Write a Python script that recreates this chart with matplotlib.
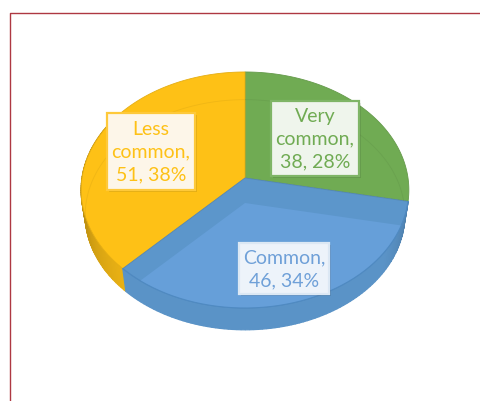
import matplotlib
matplotlib.use("Agg")
import matplotlib.pyplot as plt
import matplotlib.patheffects as pe
from matplotlib.colors import to_rgb
from matplotlib.patches import Polygon, Rectangle
import numpy as np

categories = ["Very\ncommon,", "Common,", "Less\ncommon,"]
values = [38, 46, 51]
percents = [28, 34, 38]
colors = ["#70AB53", "#5C96CB", "#FEC116"]
label_fills = ["#EFF5EC", "#EDF3FA", "#FDF6E9"]
label_edges = ["#7FB566", "#DCE8F4", "#FEC93A"]
# left, top, right, bottom of each label box
label_boxes = [(271, 101, 359, 176), (239, 243, 329, 294), (107, 113, 195, 190)]

CX, CY = 245, 178
RX, RY, PERSP = 163, 116.8, 0.1017
DEPTH, BASE_SCALE = 25, 0.975

plt.rcParams["font.family"] = ["Lato", "DejaVu Sans"]


def project(theta, r=1.0, base=False):
    # theta runs clockwise from twelve o'clock, camera tilted over the pie
    u = r * np.sin(theta)
    v = -r * np.cos(theta)
    d = 1 - PERSP * v
    x = RX * u / d
    y = RY * v / d
    if base:
        return CX + x * BASE_SCALE, CY + DEPTH + y * BASE_SCALE
    return CX + x, CY + y


def wedge(a0, a1, base=False):
    t = np.linspace(a0, a1, 200)
    x, y = project(t, base=base)
    cx, cy = project(0.0, 0.0, base=base)
    return np.column_stack([np.r_[cx, x], np.r_[cy, y]])


def shade(color, k):
    return tuple(c * k for c in to_rgb(color))


fig = plt.figure(figsize=(4.81, 4.01), dpi=100)
ax = fig.add_axes([0, 0, 1, 1])
ax.set_xlim(0, 481)
ax.set_ylim(401, 0)
ax.axis("off")

# chart frame, runs off the right and bottom
ax.plot([10, 10, 481], [401, 12.5, 12.5], color="#AE3842", lw=1.0, zorder=1)

edges = np.r_[0, np.cumsum(values)] / np.sum(values) * 2 * np.pi
starts, ends = edges[:-1], edges[1:]

# side wall, only the part facing the camera shows; strips overlap so no seams appear
for i in [2, 1]:
    t = np.linspace(starts[i], min(ends[i], np.radians(300)), 90)
    for a, b in zip(t[:-1], t[1:]):
        xa, ya = project(a)
        xb, yb = project(b)
        xc, yc = project(b, base=True)
        xd, yd = project(a, base=True)
        m = (a + b) / 2
        if i == 2:
            k = 0.70 + 0.22 * np.clip(-np.cos(m) / 0.72, 0, 1)
        else:
            k = 0.70 + 0.28 * np.clip(-np.cos(m) / 0.6, 0, 1) ** 0.7
        c = shade(colors[i], k)
        ax.add_patch(Polygon([(xa, ya), (xb, yb), (xc, yc), (xd, yd)], closed=True,
                             facecolor=c, edgecolor=c, lw=0.9, zorder=2))

# top faces
for i in [0, 2, 1]:
    ax.add_patch(Polygon(wedge(starts[i], ends[i]), closed=True, facecolor=colors[i],
                         edgecolor=shade(colors[i], 0.9), lw=0.6, zorder=3))

# base of the blue slice seen through the top, lighter where the two overlap
clip = Polygon(wedge(starts[1], ends[1]), closed=True, transform=ax.transData)
overlap = Polygon(wedge(starts[1], ends[1], base=True), closed=True,
                  facecolor="#669FD9", edgecolor="none", zorder=4)
ax.add_patch(overlap)
overlap.set_clip_path(clip)

# faint rim of the base through the other two slices
for i in [0, 2]:
    x, y = project(np.linspace(starts[i], ends[i], 200), base=True)
    rim = ax.plot(x, y, color=shade(colors[i], 0.9), lw=0.6, alpha=0.55, zorder=4)[0]
    rim.set_clip_path(Polygon(wedge(starts[i], ends[i]), closed=True, transform=ax.transData))
x, y = project(np.linspace(starts[1], ends[1], 200))
ax.plot(x, y, color="#4F8AC2", lw=0.8, zorder=4)

# data labels
for name, val, pct, col, fill, edge, box in zip(categories, values, percents, colors,
                                                label_fills, label_edges, label_boxes):
    l, t, r, b = box
    rect = Rectangle((l, t), r - l, b - t, facecolor=fill, edgecolor=edge, lw=1.6, zorder=5)
    rect.set_path_effects([pe.SimplePatchShadow(offset=(1.5, -1.5), shadow_rgbFace="#000000",
                                                alpha=0.10), pe.Normal()])
    ax.add_patch(rect)
    text_col = "#6FA0D8" if col == colors[1] else col
    ax.text((l + r) / 2, (t + b) / 2 + 0.5, f"{name}\n{val}, {pct}%", ha="center", va="center",
            fontsize=14, color=text_col, linespacing=1.42, zorder=6)

fig.savefig("out.png", dpi=100)
